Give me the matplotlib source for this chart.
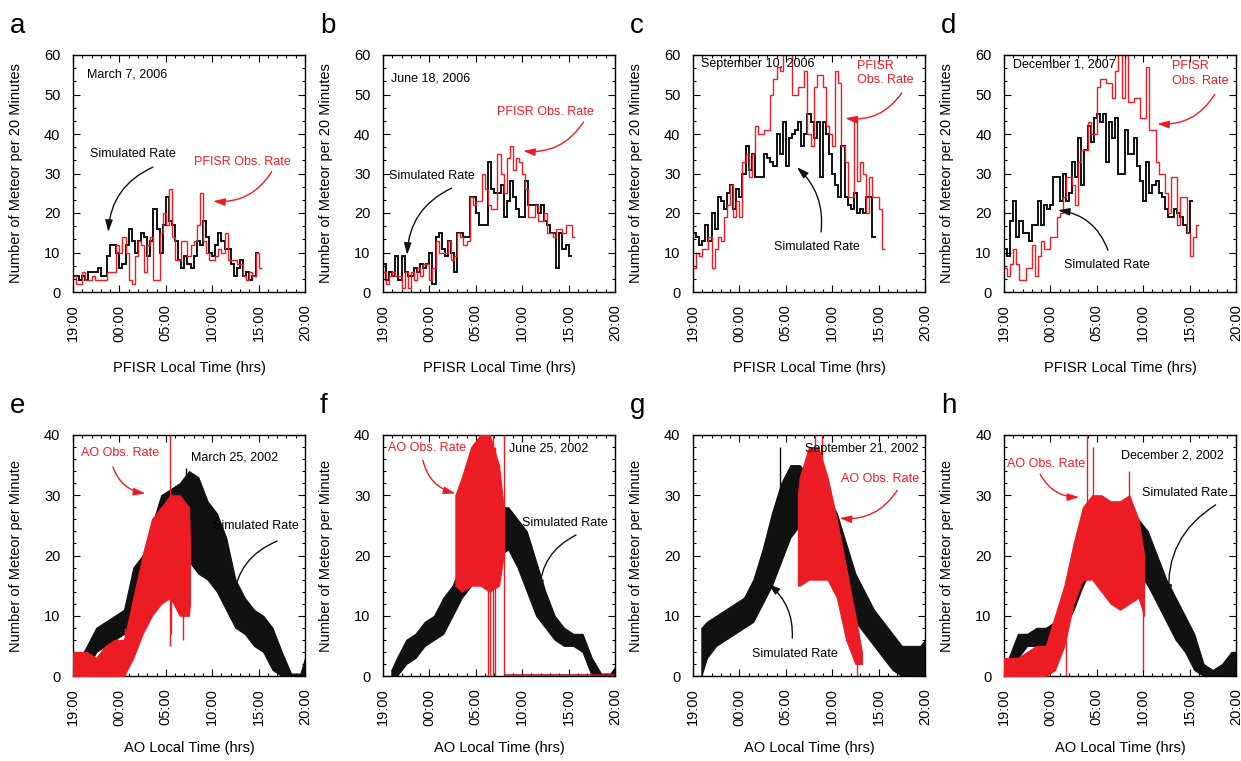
import numpy as np
import matplotlib.pyplot as plt
from matplotlib.ticker import FixedLocator, MultipleLocator, AutoMinorLocator

plt.rcParams["font.family"] = ["Liberation Sans", "DejaVu Sans"]

RED = "#ec1c24"
BLACK = "#111111"

# x axis is hours after 19:00 (0 -> 19:00, 25 -> 20:00 next day)
hour_ticks = [0, 5, 10, 15, 20, 25]
hour_labels = ["19:00", "00:00", "05:00", "10:00", "15:00", "20:00"]
BIN = 1 / 3  # PFISR counts are in 20 minute bins

# ---- top row: PFISR, meteors per 20 minutes ----
sim_a = [4, 4, 3, 4, 3, 5, 5, 5, 6, 4, 4, 9, 12, 12, 10, 6, 7, 12, 16, 13,
         10, 13, 15, 14, 9, 13, 21, 16, 10, 17, 24, 18, 17, 13, 8, 6, 9, 7, 6, 9,
         13, 12, 18, 14, 10, 9, 12, 15, 13, 11, 11, 7, 4, 6, 8, 4, 5, 3, 4, 10]
obs_a = [4, 2, 2, 5, 3, 3, 4, 3, 3, 3, 3, 5, 5, 5, 12, 10, 14, 10, 3, 2,
         9, 13, 12, 5, 12, 14, 3, 3, 15, 20, 17, 26, 14, 8, 8, 13, 13, 9, 12, 13,
         17, 25, 13, 10, 8, 8, 9, 11, 10, 15, 8, 8, 8, 7, 7, 4, 3, 5, 4, 10, 6]

sim_b = [7, 3, 5, 4, 9, 3, 9, 5, 4, 4, 6, 5, 7, 6, 7, 10, 2, 14, 15, 11,
         9, 13, 10, 5, 15, 15, 14, 14, 24, 24, 20, 17, 17, 17, 33, 26, 25, 25, 27, 19,
         23, 28, 24, 21, 19, 19, 28, 22, 22, 22, 20, 22, 18, 17, 15, 15, 6, 15, 11, 12, 9]
obs_b = [5, 2, 4, 5, 4, 4, 1, 5, 1, 5, 3, 6, 4, 7, 7, 3, 6, 13, 10, 10,
         10, 13, 8, 9, 15, 14, 12, 13, 24, 22, 23, 23, 30, 26, 22, 21, 21, 35, 30, 25,
         34, 37, 31, 34, 33, 30, 26, 19, 19, 22, 18, 18, 20, 15, 15, 14, 16, 16, 15, 17, 17, 14]

sim_c = [15, 14, 12, 13, 17, 13, 20, 16, 24, 23, 21, 25, 27, 21, 26, 24, 30, 37, 31, 35,
         29, 29, 29, 35, 34, 33, 32, 40, 35, 43, 32, 39, 40, 41, 43, 37, 40, 45, 43, 39,
         43, 29, 43, 40, 35, 30, 27, 24, 37, 24, 22, 21, 25, 20, 21, 20, 24, 24, 14]
obs_c = [6, 10, 9, 11, 11, 14, 6, 11, 14, 13, 19, 22, 27, 19, 23, 19, 33, 35, 29, 35,
         42, 40, 40, 41, 41, 50, 54, 57, 56, 62, 62, 62, 50, 50, 52, 52, 56, 40, 37, 52,
         55, 55, 52, 42, 40, 37, 56, 53, 37, 33, 24, 24, 44, 28, 33, 30, 20, 29, 24, 24, 21, 11]

sim_d = [11, 9, 18, 23, 14, 18, 15, 15, 13, 17, 17, 23, 17, 22, 21, 22, 29, 29, 23, 30,
         23, 25, 33, 29, 39, 27, 36, 42, 38, 44, 45, 43, 45, 33, 43, 39, 44, 30, 30, 41,
         35, 35, 39, 32, 28, 23, 33, 25, 27, 28, 25, 24, 21, 19, 19, 21, 20, 19, 17, 15, 23]
obs_d = [6, 4, 7, 11, 7, 3, 3, 6, 6, 12, 4, 9, 13, 11, 11, 14, 14, 19, 20, 24,
         29, 29, 27, 22, 33, 36, 36, 43, 40, 40, 52, 54, 54, 53, 53, 49, 56, 62, 49, 62,
         48, 48, 49, 49, 44, 44, 57, 41, 41, 33, 30, 30, 25, 20, 29, 29, 17, 24, 24, 15,
         9, 14, 17]

# ---- bottom row: Arecibo, meteors per minute, given as low/high envelope ----
mid = [h + 0.5 for h in range(1, 25)]  # 1.5 ... 24.5

sim_e_t = [0.8] + mid + [25.0]
sim_e_lo = [0, 1, 4, 5, 6, 7, 10, 14, 17, 19, 20, 20, 19, 17, 16, 14, 11, 8, 7, 5, 4, 1, 0, 0, 0, 0]
sim_e_hi = [3, 5, 8, 9, 10, 11, 18, 20, 25, 30, 31, 32, 34, 33, 29, 27, 23, 16, 13, 11, 10, 8, 4, 0.4, 0.4, 3]
obs_e_t = [0.0, 0.5] + mid[:12] + [12.6]
obs_e_lo = [0, 0, 0, 0, 0, 0, 0, 3, 7, 10, 12, 13, 10, 10, 12]
obs_e_hi = [4, 4, 4, 3, 5, 6, 6, 13, 20, 26, 28, 30, 30, 28, 22]
spike_e_t = [10.45, 10.6, 11.9, 5.6, 12.2]
spike_e_lo = [5, 7, 6, 0, 20]
spike_e_hi = [40, 28, 25, 8, 34.5]
spike_e_who = ["obs", "obs", "obs", "obs", "sim"]

sim_f_t = [0.9] + mid + [25.0]
sim_f_lo = [0, 0, 2, 3, 5, 6, 7, 10, 13, 15, 17, 18, 20, 21, 18, 14, 10, 8, 6, 5, 5, 4, 0, 0, 0, 0]
sim_f_hi = [1, 3, 6, 7, 9, 10, 13, 15, 19, 21, 24, 25, 28, 28, 26, 24, 19, 14, 10, 8, 7, 7, 3, 0.4, 0.4, 1.5]
obs_f_t = [7.8, 8.5, 9.5, 10.5, 11.5, 12.5, 13.0]
obs_f_lo = [15, 14, 15, 15, 14, 15, 20]
obs_f_hi = [30, 33, 38, 40, 40, 35, 28]
spike_f_t = [11.3, 11.5, 11.8, 12.1, 13.0]
spike_f_lo = [0, 0, 0, 0, 0]
spike_f_hi = [40, 40, 40, 38, 40]
spike_f_who = ["obs"] * 5

sim_g_t = [0.9] + mid + [25.0]
sim_g_lo = [0, 3, 5, 6, 7, 8, 9, 12, 15, 19, 23, 25, 25, 24, 20, 15, 12, 9, 7, 5, 3, 1, 0, 0, 0, 0]
sim_g_hi = [8, 9, 10, 11, 12, 13, 16, 21, 27, 32, 35, 35, 33, 32, 30, 27, 22, 17, 14, 11, 9, 7, 5, 5, 5, 6]
obs_g_t = [11.3, 11.5, 12.5, 13.5, 14.5, 15.5, 16.5, 17.5, 18.2]
obs_g_lo = [15, 15, 16, 16, 16, 13, 6, 2, 2]
obs_g_hi = [30, 33, 38, 38, 33, 26, 18, 10, 4]
spike_g_t = [13.2, 13.9, 17.7, 9.4]
spike_g_lo = [16, 20, 0, 25]
spike_g_hi = [40, 40, 6, 38]
spike_g_who = ["obs", "obs", "obs", "sim"]

sim_h_t = [0.0, 0.5] + mid + [25.0]
sim_h_lo = [0, 0, 3, 5, 5, 5, 5, 8, 11, 15, 18, 19, 19, 19, 18, 17, 15, 12, 9, 6, 4, 1, 0, 0, 0, 0, 0]
sim_h_hi = [2, 3, 7, 7, 8, 8, 9, 13, 18, 22, 25, 27, 27, 26, 26, 26, 24, 20, 16, 13, 10, 7, 2, 1, 2, 4, 4]
obs_h_t = [0.0, 0.5] + mid[:14] + [15.1]
obs_h_lo = [0, 0, 0, 0, 0, 0, 1, 5, 12, 16, 16, 14, 12, 11, 12, 13, 10]
obs_h_hi = [3, 3, 3, 4, 5, 5, 10, 15, 22, 28, 30, 30, 29, 29, 30, 26, 20]
spike_h_t = [8.9, 9.6, 13.5, 6.7, 15.0]
spike_h_lo = [20, 20, 20, 0, 1]
spike_h_hi = [40, 38, 34, 10, 20]
spike_h_who = ["obs"] * 5

W, H = 1241, 761
fig = plt.figure(figsize=(W / 100, H / 100), dpi=100)

lefts = [73, 383, 693, 1004]


def make_axes(left_px, top_px, bottom_px, width_px=232):
    return fig.add_axes([left_px / W, 1 - bottom_px / H, width_px / W, (bottom_px - top_px) / H])


def style(ax, ymax, ymajor, yminor_n, xlabel, ylabel, xlab_y):
    ax.set_xlim(0, 25)
    ax.set_ylim(0, ymax)
    ax.xaxis.set_major_locator(FixedLocator(hour_ticks))
    ax.set_xticklabels(hour_labels, rotation=90)
    ax.xaxis.set_minor_locator(MultipleLocator(1))
    ax.yaxis.set_major_locator(MultipleLocator(ymajor))
    ax.yaxis.set_minor_locator(AutoMinorLocator(yminor_n))
    ax.tick_params(which="both", direction="in", top=True, right=True, labelsize=10.5, width=0.8)
    ax.tick_params(axis="y", which="major", length=5, pad=9)
    ax.tick_params(axis="x", which="major", length=5, pad=9)
    ax.tick_params(which="minor", length=2.5)
    for s in ax.spines.values():
        s.set_linewidth(1.0)
    ax.set_xlabel(xlabel, fontsize=10.5)
    ax.set_ylabel(ylabel, fontsize=10.5)
    ax.xaxis.set_label_coords(0.5, xlab_y)
    ax.yaxis.set_label_coords(-0.215, 0.5)


def arrow(ax, tail, tip, color, rad):
    ax.annotate("", xy=tip, xytext=tail,
                arrowprops=dict(arrowstyle="-|>,head_length=0.7,head_width=0.22",
                                connectionstyle=f"arc3,rad={rad}", color=color, lw=1.0,
                                shrinkA=0, shrinkB=0))


# top row
top_sets = [(sim_a, obs_a), (sim_b, obs_b), (sim_c, obs_c), (sim_d, obs_d)]
top_notes = [
    dict(date="March 7, 2006", dxy=(1.5, 55), obs="PFISR Obs. Rate", oxy=(18.3, 33), oha="center",
         otail=(21.4, 30.4), otip=(15.1, 23), orad=-0.3,
         sxy=(6.4, 34.9), stail=(8.6, 31.6), stip=(3.8, 15.2), srad=0.3),
    dict(date="June 18, 2006", dxy=(0.9, 54), obs="PFISR Obs. Rate", oxy=(17.5, 45.6), oha="center",
         otail=(21.6, 43), otip=(15.1, 35.7), orad=-0.3,
         sxy=(5.3, 29.4), stail=(7.4, 26.3), stip=(2.6, 9.4), srad=0.3),
    dict(date="September 10, 2006", dxy=(0.9, 57.7), obs="PFISR\nObs. Rate", oxy=(17.7, 55.5), oha="left",
         otail=(22.5, 50.4), otip=(16.4, 44), orad=-0.3,
         sxy=(13.3, 11.4), stail=(13.8, 15.2), stip=(11.2, 31.6), srad=0.25),
    dict(date="December 1, 2007", dxy=(1.0, 57.7), obs="PFISR\nObs. Rate", oxy=(18.1, 55.3), oha="left",
         otail=(22.7, 50), otip=(16.5, 42.6), orad=-0.3,
         sxy=(11.1, 6.8), stail=(11.2, 10.6), stip=(5.8, 20.7), srad=0.3),
]

for i, ((sim, obs), note) in enumerate(zip(top_sets, top_notes)):
    ax = make_axes(lefts[i], 55, 292)
    ax.stairs(sim, np.arange(len(sim) + 1) * BIN, baseline=None, color=BLACK, lw=1.4)
    ax.stairs(obs, np.arange(len(obs) + 1) * BIN, baseline=None, color=RED, lw=1.0)
    style(ax, 60, 10, 3, "PFISR Local Time (hrs)", "Number of Meteor per 20 Minutes", -0.29)
    ax.text(*note["dxy"], note["date"], fontsize=9, ha="left", va="center", zorder=5)
    ax.text(*note["oxy"], note["obs"], fontsize=9, color=RED, ha=note["oha"], va="center",
            linespacing=1.25, zorder=5)
    arrow(ax, note["otail"], note["otip"], RED, note["orad"])
    ax.text(*note["sxy"], "Simulated Rate", fontsize=9, ha="center", va="center", zorder=5)
    arrow(ax, note["stail"], note["stip"], BLACK, note["srad"])

# bottom row
bottom_sets = [
    (sim_e_t, sim_e_lo, sim_e_hi, obs_e_t, obs_e_lo, obs_e_hi, spike_e_t, spike_e_lo, spike_e_hi, spike_e_who),
    (sim_f_t, sim_f_lo, sim_f_hi, obs_f_t, obs_f_lo, obs_f_hi, spike_f_t, spike_f_lo, spike_f_hi, spike_f_who),
    (sim_g_t, sim_g_lo, sim_g_hi, obs_g_t, obs_g_lo, obs_g_hi, spike_g_t, spike_g_lo, spike_g_hi, spike_g_who),
    (sim_h_t, sim_h_lo, sim_h_hi, obs_h_t, obs_h_lo, obs_h_hi, spike_h_t, spike_h_lo, spike_h_hi, spike_h_who),
]
bottom_notes = [
    dict(date="March 25, 2002", dxy=(17.4, 36.2), oxy=(5.1, 37), otail=(4.3, 34.7), otip=(7.8, 30.3), orad=0.3,
         sxy=(19.7, 24.9), stail=(22, 22.4), stip=(17.3, 12.6), srad=0.3),
    dict(date="June 25, 2002", dxy=(17.9, 37.8), oxy=(4.8, 37.8), otail=(4.3, 35.8), otip=(7.8, 30.3), orad=0.3,
         sxy=(19.6, 25.4), stail=(20.8, 23.4), stip=(16.9, 13.9), srad=0.3),
    dict(date="September 21, 2002", dxy=(18.2, 37.6), oxy=(20.2, 32.7), otail=(22, 30.8), otip=(15.8, 26.2), orad=-0.3,
         sxy=(11, 3.6), stail=(10.7, 6.3), stip=(8.1, 15.3), srad=0.25),
    dict(date="December 2, 2002", dxy=(18.1, 36.6), oxy=(4.5, 35.2), otail=(3.9, 33.5), otip=(8.1, 29.7), orad=0.3,
         sxy=(19.5, 30.3), stail=(22.8, 28.4), stip=(17.8, 13.1), srad=0.3),
]

for i, (data, note) in enumerate(zip(bottom_sets, bottom_notes)):
    st, slo, shi, ot, olo, ohi, kt, klo, khi, kwho = data
    ax = make_axes(lefts[i], 435, 676)
    ax.fill_between(st, slo, shi, color=BLACK, lw=0.8, edgecolor=BLACK, zorder=2)
    ax.fill_between(ot, olo, ohi, color=RED, lw=0.8, edgecolor=RED, zorder=3)
    for t, lo, hi, who in zip(kt, klo, khi, kwho):
        ax.vlines(t, lo, hi, color=RED if who == "obs" else BLACK, lw=1.0,
                  zorder=3 if who == "obs" else 2)
    if i == 1:
        ax.hlines(0.1, ot[-1], 25, color="#b01a1f", lw=1.2, zorder=3)
    style(ax, 40, 10, 5, "AO Local Time (hrs)", "Number of Meteor per Minute", -0.27)
    ax.text(*note["dxy"], note["date"], fontsize=9, ha="center", va="center", zorder=5)
    ax.text(*note["oxy"], "AO Obs. Rate", fontsize=9, color=RED, ha="center", va="center", zorder=5)
    arrow(ax, note["otail"], note["otip"], RED, note["orad"])
    ax.text(*note["sxy"], "Simulated Rate", fontsize=9, ha="center", va="center", zorder=5)
    arrow(ax, note["stail"], note["stip"], BLACK, note["srad"])

# panel letters
for i, letter in enumerate("abcd"):
    fig.text((lefts[i] - 63) / W, 1 - 33 / H, letter, fontsize=20, va="baseline", ha="left")
for i, letter in enumerate("efgh"):
    fig.text((lefts[i] - 63) / W, 1 - 413 / H, letter, fontsize=20, va="baseline", ha="left")

fig.savefig("out.png", dpi=100)
